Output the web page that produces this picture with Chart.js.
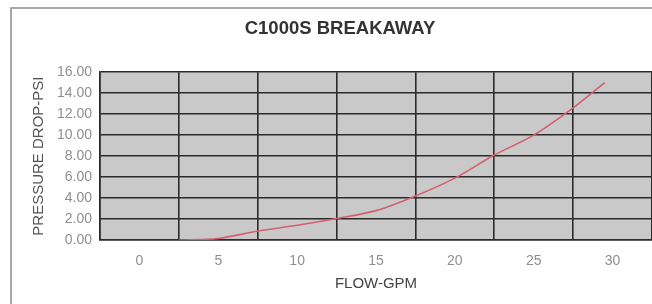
<!DOCTYPE html>
<html>
<head>
<meta charset="utf-8">
<script src="https://cdn.jsdelivr.net/npm/chart.js@4/dist/chart.umd.min.js"></script>
<style>
  html, body { margin: 0; padding: 0; background: #ffffff; }
  #wrap { width: 652px; height: 304px; }
</style>
</head>
<body>
<div id="wrap"><canvas id="chart" width="652" height="304"></canvas></div>
<script>
// Valores (vazão em GPM x queda de pressão em PSI)
const flowGpm = [2.5, 5, 7.5, 10, 12.5, 15, 17.5, 20, 22.5, 25, 27.5, 29.5];
const pressureDropPsi = [0, 0.15, 0.85, 1.4, 2.05, 2.8, 4.2, 5.9, 8.1, 10.0, 12.6, 15.0];
const xTickLabels = ['0', '5', '10', '15', '20', '25', '30'];
const yTickValues = [0, 2, 4, 6, 8, 10, 12, 14, 16];

const gridDark = '#2b2b2b';
const fontFamily = 'Liberation Sans, Arial, sans-serif';

// fundo cinza da área de plotagem + moldura externa
const backdrop = {
    id: 'backdrop',
    beforeDraw(chart) {
        const { ctx, chartArea: a } = chart;
        ctx.save();
        ctx.fillStyle = '#c9c9c9';
        ctx.fillRect(a.left, a.top, a.right - a.left, a.bottom - a.top);
        ctx.strokeStyle = '#8c8c8c';
        ctx.lineWidth = 1.5;
        ctx.strokeRect(11, 8, 800, 500);
        ctx.restore();
    }
};

const ctx = document.getElementById('chart').getContext('2d');

new Chart(ctx, {
    type: 'line',
    data: {
        datasets: [{
            label: 'C1000S',
            data: flowGpm.map((x, i) => ({ x: x, y: pressureDropPsi[i] })),
            borderColor: '#d35f6f',
            borderWidth: 1.6,
            pointRadius: 0,
            tension: 0.3,
            fill: false
        }]
    },
    options: {
        responsive: false,
        animation: false,
        layout: { padding: { left: 28, right: 0, top: 0, bottom: 0 } },
        plugins: {
            legend: { display: false },
            tooltip: { enabled: false },
            title: {
                display: true,
                text: 'C1000S BREAKAWAY',
                color: '#333333',
                font: { family: fontFamily, size: 18.5, weight: 'bold', lineHeight: 1.2 },
                padding: { top: 18, bottom: 32 }
            }
        },
        scales: {
            x: {
                type: 'linear',
                min: -2.5,
                max: 32.5,
                afterBuildTicks: (axis) => {
                    const t = [];
                    for (let v = -2.5; v <= 32.5; v += 2.5) t.push({ value: v });
                    axis.ticks = t;
                },
                afterFit: (scale) => {
                    scale.height = 64;
                    scale.paddingLeft = 0;
                    scale.paddingRight = 0;
                },
                ticks: {
                    autoSkip: false,
                    maxRotation: 0,
                    padding: 13,
                    color: '#8f8f8f',
                    font: { family: fontFamily, size: 14 },
                    callback: (v) => (v % 5 === 0 ? xTickLabels[v / 5] : '')
                },
                grid: {
                    drawTicks: false,
                    lineWidth: 1.6,
                    color: (c) => (c.tick && c.tick.value % 5 === 0 ? 'rgba(0,0,0,0)' : gridDark)
                },
                border: { color: gridDark, width: 1.6 },
                title: {
                    display: true,
                    text: 'FLOW-GPM',
                    color: '#444444',
                    font: { family: fontFamily, size: 15 },
                    padding: { top: 0, bottom: 11 }
                }
            },
            y: {
                min: 0,
                max: 16,
                afterBuildTicks: (axis) => { axis.ticks = yTickValues.map(v => ({ value: v })); },
                afterFit: (scale) => { scale.width = 72; },
                ticks: {
                    padding: 8,
                    color: '#8f8f8f',
                    font: { family: fontFamily, size: 14 },
                    callback: (v) => Number(v).toFixed(2)
                },
                grid: { drawTicks: false, lineWidth: 1.6, color: gridDark },
                border: { color: gridDark, width: 1.6 },
                title: {
                    display: true,
                    text: 'PRESSURE DROP-PSI',
                    color: '#555555',
                    font: { family: fontFamily, size: 15 },
                    padding: { top: 1.5, bottom: 0 }
                }
            }
        }
    },
    plugins: [backdrop]
});
</script>
</body>
</html>
